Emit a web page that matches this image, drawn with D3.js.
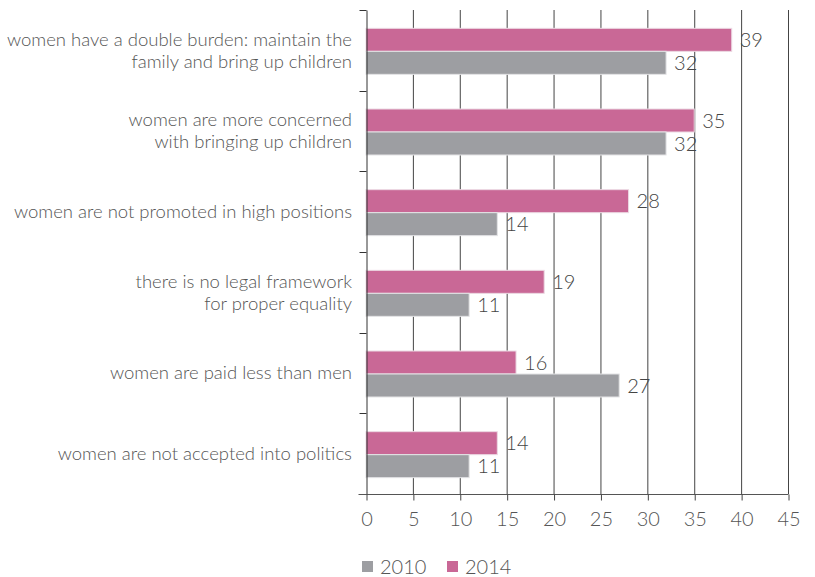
<!DOCTYPE html>
<html>
<head>
<meta charset="utf-8">
<script src="https://cdn.jsdelivr.net/npm/d3@7"></script>
<style>
  body { margin: 0; background: #fff; }
  text { font-family: Lato, "Open Sans", sans-serif; font-weight: 300; }
</style>
</head>
<body>
<svg id="chart"></svg>
<script>
// data
let categories = [
  ["women have a double burden: maintain the", "family and bring up children"],
  ["women are more concerned", "with bringing up children"],
  ["women are not promoted in high positions"],
  ["there is no legal framework", "for proper equality"],
  ["women are paid less than men"],
  ["women are not accepted into politics"]
];
let values2014 = [39, 35, 28, 19, 16, 14];
let values2010 = [32, 32, 14, 11, 27, 11];
let xTicks = [0, 5, 10, 15, 20, 25, 30, 35, 40, 45];
let seriesNames = ["2010", "2014"];

let width = 815, height = 577;
let margin = { top: 10, right: 27, bottom: 83, left: 366 };
let colors = { "2010": "#9d9ea2", "2014": "#c96896" };

let svg = d3.select('#chart').attr('width', width).attr('height', height);

let x = d3.scaleLinear().domain([0, 45]).range([margin.left, width - margin.right]);
let y = d3.scaleBand()
  .domain(d3.range(categories.length))
  .range([margin.top, height - margin.bottom]);

let barH = 23;

// vertical grid lines (behind bars)
svg.append('g')
  .selectAll('line')
  .data(xTicks.slice(1))
  .enter().append('line')
  .attr('x1', d => x(d) + 0.5).attr('x2', d => x(d) + 0.5)
  .attr('y1', margin.top).attr('y2', height - margin.bottom)
  .attr('stroke', '#444').attr('stroke-width', 1);

// bars
let groups = svg.append('g')
  .selectAll('g')
  .data(categories)
  .enter().append('g')
  .attr('transform', (d, i) => `translate(0,${y(i) + y.bandwidth() / 2 - barH + 1})`);

groups.append('rect')
  .attr('x', x(0))
  .attr('y', 0)
  .attr('height', barH)
  .attr('width', (d, i) => x(values2014[i]) - x(0))
  .attr('fill', colors["2014"])
  .attr('stroke', '#ecd9e3').attr('stroke-width', 1);

groups.append('rect')
  .attr('x', x(0))
  .attr('y', barH)
  .attr('height', barH)
  .attr('width', (d, i) => x(values2010[i]) - x(0))
  .attr('fill', colors["2010"])
  .attr('stroke', '#e4e4e6').attr('stroke-width', 1);

// value labels
groups.append('text')
  .attr('x', (d, i) => x(values2014[i]) + 8)
  .attr('y', barH / 2)
  .attr('dy', '0.36em')
  .attr('font-size', 20)
  .attr('fill', '#444')
  .text((d, i) => values2014[i]);

groups.append('text')
  .attr('x', (d, i) => x(values2010[i]) + 8)
  .attr('y', barH * 1.5)
  .attr('dy', '0.36em')
  .attr('font-size', 20)
  .attr('fill', '#444')
  .text((d, i) => values2010[i]);

// category labels
let lineH = 22;
let labels = svg.append('g')
  .selectAll('text')
  .data(categories)
  .enter().append('text')
  .attr('text-anchor', 'end')
  .attr('font-size', 18.5)
  .attr('fill', '#555');
labels.each(function (lines, i) {
  let t = d3.select(this);
  let cy = y(i) + y.bandwidth() / 2 - (lines.length - 1) * lineH / 2;
  lines.forEach((ln, k) => {
    t.append('tspan')
      .attr('x', margin.left - 14)
      .attr('y', cy + k * lineH)
      .attr('dy', '0.35em')
      .text(ln);
  });
});

// y axis line with category separators
let yAxis = d3.axisLeft(y)
  .tickValues([])
  .tickSizeOuter(0);
let yAx = svg.append('g')
  .attr('transform', `translate(${margin.left + 0.5},0)`)
  .call(yAxis);
yAx.select('.domain').attr('stroke', '#333');
yAx.selectAll('.sep')
  .data(d3.range(categories.length))
  .enter().append('line')
  .attr('class', 'sep')
  .attr('x1', -7).attr('x2', 0)
  .attr('y1', i => Math.round(y(i)) + 0.5).attr('y2', i => Math.round(y(i)) + 0.5)
  .attr('stroke', '#333');

// x axis
let xAxis = d3.axisBottom(x).tickValues(xTicks).tickSize(6).tickPadding(11).tickSizeOuter(0);
let xAx = svg.append('g')
  .attr('transform', `translate(0.5,${height - margin.bottom + 0.5})`)
  .call(xAxis);
xAx.select('.domain').attr('stroke', '#555').attr('d', `M${margin.left - 8},0H${width - margin.right}`);
xAx.selectAll('.tick line').attr('stroke', '#444');
xAx.selectAll('.tick text')
  .attr('font-size', 20)
  .attr('fill', '#555')
  .attr('font-family', 'Lato, sans-serif')
  .attr('font-weight', 300);

// legend
let legend = svg.append('g')
  .attr('transform', `translate(362,${height - 10})`);
let legItems = legend.selectAll('g')
  .data(seriesNames)
  .enter().append('g')
  .attr('transform', (d, i) => `translate(${i * 85},0)`);
legItems.append('rect')
  .attr('x', 0).attr('y', -6)
  .attr('width', 11).attr('height', 11)
  .attr('fill', d => colors[d]);
legItems.append('text')
  .attr('x', 18).attr('y', 0)
  .attr('dy', '0.35em')
  .attr('font-size', 20)
  .attr('fill', '#555')
  .text(d => d);
</script>
</body>
</html>
